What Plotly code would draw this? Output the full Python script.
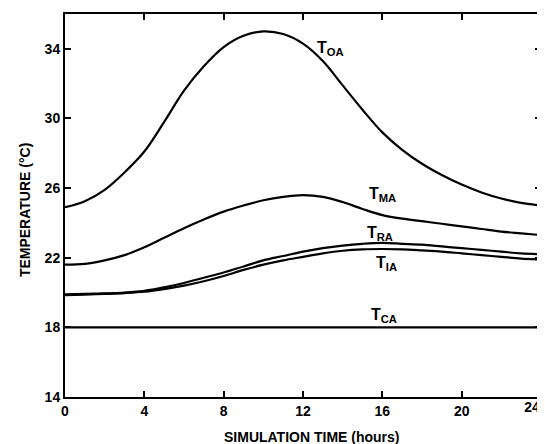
import plotly.graph_objects as go

hours = list(range(25))
t_oa = [24.9, 25.25, 25.9, 26.9, 28.1, 29.8, 31.6, 33.0, 34.1, 34.75, 35.0, 34.85, 34.3,
        33.3, 31.9, 30.5, 29.2, 28.2, 27.4, 26.75, 26.2, 25.75, 25.4, 25.15, 25.0]
t_ma = [21.6, 21.65, 21.85, 22.15, 22.6, 23.15, 23.7, 24.2, 24.65, 25.0, 25.3, 25.5, 25.6,
        25.5, 25.2, 24.8, 24.45, 24.25, 24.1, 23.95, 23.8, 23.65, 23.5, 23.4, 23.3]
t_ra = [19.9, 19.92, 19.95, 20.0, 20.1, 20.3, 20.55, 20.85, 21.15, 21.5, 21.85, 22.1, 22.35,
        22.55, 22.7, 22.8, 22.85, 22.8, 22.75, 22.65, 22.55, 22.45, 22.35, 22.25, 22.2]
t_ia = [19.85, 19.88, 19.92, 19.97, 20.05, 20.2, 20.4, 20.65, 20.95, 21.3, 21.6, 21.85, 22.05,
        22.25, 22.4, 22.48, 22.5, 22.48, 22.42, 22.35, 22.25, 22.15, 22.05, 21.95, 21.9]
t_ca = [18.0] * 25

series = [("T_OA", t_oa, "x"), ("T_MA", t_ma, "x"), ("T_RA", t_ra, "x"),
          ("T_IA", t_ia, "x"), ("T_CA", t_ca, "x2")]

label_text = ["T<sub>OA</sub>", "T<sub>MA</sub>", "T<sub>RA</sub>", "T<sub>IA</sub>", "T<sub>CA</sub>"]
label_x = [13.4, 16.0, 15.9, 16.2, 16.1]
label_y = [34.0, 25.65, 23.4, 21.65, 18.7]

x_ticks = [0, 4, 8, 12, 16, 20, 24]
x_tick_text = ["0", "4", "8", "12", "16", "20", ""]
x_last_tick = [24]
y_ticks = [14, 18, 22, 26, 30, 34]

FONT = "Liberation Sans"

fig = go.Figure()
for name, vals, xa in series:
    fig.add_trace(go.Scatter(x=hours, y=vals, mode="lines", name=name, xaxis=xa,
                             line=dict(color="black", width=2.2, shape="spline", smoothing=1.0),
                             showlegend=False, hoverinfo="skip"))

for txt, lx, ly in zip(label_text, label_x, label_y):
    fig.add_annotation(x=lx, y=ly, text=txt, showarrow=False,
                       font=dict(family=FONT, size=16, color="black", weight="bold"))

fig.add_annotation(xref="paper", yref="paper", x=0.519, y=-0.104, yanchor="middle",
                   text="SIMULATION TIME (hours)", showarrow=False,
                   font=dict(family=FONT, size=14, color="black", weight="bold"))
fig.add_annotation(xref="paper", yref="paper", x=-0.084, y=0.488, xanchor="center",
                   yanchor="middle", text="TEMPERATURE (\u00b0C)", textangle=-90,
                   showarrow=False,
                   font=dict(family=FONT, size=14, color="black", weight="bold"))

tickfont = dict(family=FONT, size=14, color="black", weight="bold")
axis_common = dict(showgrid=False, zeroline=False, showline=True, linecolor="black",
                   linewidth=2, mirror="ticks", ticks="inside", ticklen=6, tickwidth=1.5,
                   tickcolor="black", automargin=False, tickfont=tickfont)

fig.update_layout(
    xaxis=dict(range=[0, 24], tickmode="array", tickvals=x_ticks, ticktext=x_tick_text,
               **axis_common),
    xaxis2=dict(range=[0, 24], overlaying="x", anchor="y", side="bottom",
                tickmode="array", tickvals=x_last_tick, ticktext=["24"],
                ticklabelshift=-9, ticklabeloverflow="allow", showline=False,
                showgrid=False, zeroline=False, ticks="", automargin=False,
                tickfont=tickfont),
    yaxis=dict(range=[14, 36], tickvals=y_ticks, **axis_common),
)

# page body adds an 8px offset, so the figure is sized to fit the window after it
fig.update_layout(width=537, height=436, plot_bgcolor="white", paper_bgcolor="white",
                  margin=dict(l=57, r=4, t=6, b=47))

fig.write_html("out.html")
